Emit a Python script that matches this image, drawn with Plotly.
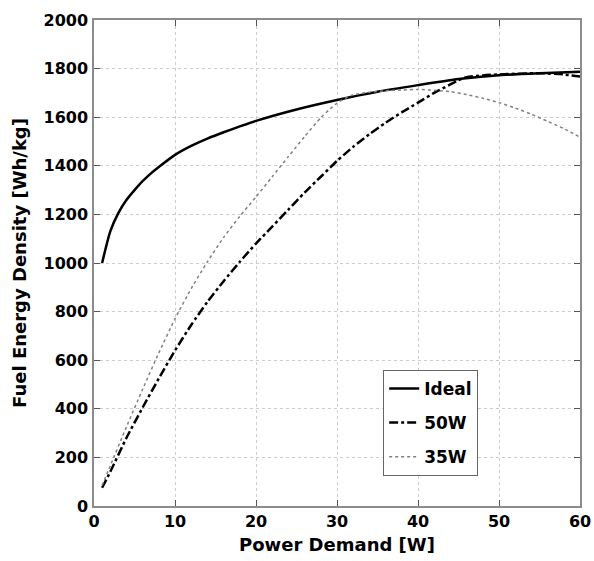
import plotly.graph_objects as go

ideal_x = [1, 2, 3, 4, 5, 6, 7, 8, 10, 12, 14, 16, 18, 20, 25, 30, 35, 40, 45, 50, 55, 60]
ideal_y = [1000, 1129, 1205, 1259, 1300, 1337, 1368, 1395, 1445, 1482, 1512, 1538, 1562, 1585, 1632, 1671, 1705, 1732, 1757, 1773, 1781, 1787]

w50_x = [1, 2, 4, 6, 8, 10, 12, 14, 16, 18, 20, 22, 24, 26, 28, 30, 32, 34, 36, 38, 40, 42, 44, 45, 46, 48, 50, 55, 58, 60]
w50_y = [75, 140, 280, 405, 525, 640, 745, 840, 925, 1005, 1080, 1150, 1220, 1290, 1355, 1420, 1478, 1530, 1577, 1620, 1660, 1700, 1735, 1752, 1765, 1772, 1776, 1781, 1776, 1767]

w35_x = [1, 2, 4, 6, 8, 10, 12, 14, 16, 18, 20, 22, 24, 26, 28, 29, 30, 31, 32, 34, 36, 38, 40, 42, 44, 46, 48, 50, 52, 54, 56, 58, 60]
w35_y = [85, 165, 325, 480, 630, 770, 895, 1005, 1105, 1192, 1272, 1355, 1438, 1520, 1598, 1630, 1658, 1678, 1692, 1703, 1709, 1712, 1714, 1711, 1705, 1693, 1678, 1660, 1638, 1612, 1583, 1553, 1518]

x_ticks = [0, 10, 20, 30, 40, 50, 60]
y_ticks = [0, 200, 400, 600, 800, 1000, 1200, 1400, 1600, 1800, 2000]

FONT = "DejaVu Sans"

fig = go.Figure()
fig.add_trace(go.Scatter(x=ideal_x, y=ideal_y, mode="lines", name="Ideal", legendgroup="a",
                         line=dict(color="black", width=2.5, shape="spline", smoothing=0.6)))
fig.add_trace(go.Scatter(x=w50_x, y=w50_y, mode="lines", name="50W", legendgroup="b",
                         line=dict(color="black", width=2.5, dash="dashdot", shape="spline", smoothing=0.6)))
fig.add_trace(go.Scatter(x=w35_x, y=w35_y, mode="lines", name="35W", legendgroup="c",
                         line=dict(color="#808080", width=1.5, dash="dot", shape="spline", smoothing=0.6)))

axis_common = dict(
    showline=True, linecolor="#8c8c8c", linewidth=1.5, mirror="ticks",
    ticks="inside", ticklen=6, tickcolor="#555555", tickwidth=1,
    showgrid=True, gridcolor="#cccccc", griddash="dot", gridwidth=1,
    zeroline=False, automargin=False,
    tickfont=dict(family=FONT, size=16, color="black", weight="bold"),
)

fig.update_xaxes(range=[0, 60], tickvals=x_ticks, ticktext=[str(v) for v in x_ticks],
                 title=dict(text="Power Demand [W]", standoff=8,
                            font=dict(family=FONT, size=18, color="black", weight="bold")),
                 **axis_common)
fig.update_yaxes(range=[0, 2000], tickvals=y_ticks, ticktext=[str(v) for v in y_ticks],
                 ticklabelstandoff=1,
                 title=dict(text="Fuel Energy Density [Wh/kg]", standoff=12,
                            font=dict(family=FONT, size=18, color="black", weight="bold")),
                 **axis_common)

fig.update_layout(
    width=594, height=561,
    margin=dict(l=94, r=14, t=20, b=55),
    plot_bgcolor="white", paper_bgcolor="white",
    showlegend=True,
    legend=dict(x=0.595, y=0.28, xanchor="left", yanchor="top",
                bgcolor="white", bordercolor="#666666", borderwidth=1,
                font=dict(family=FONT, size=17, color="black", weight="bold"),
                traceorder="grouped", tracegroupgap=9,
                itemwidth=30),
)

fig.write_html("out.html")
